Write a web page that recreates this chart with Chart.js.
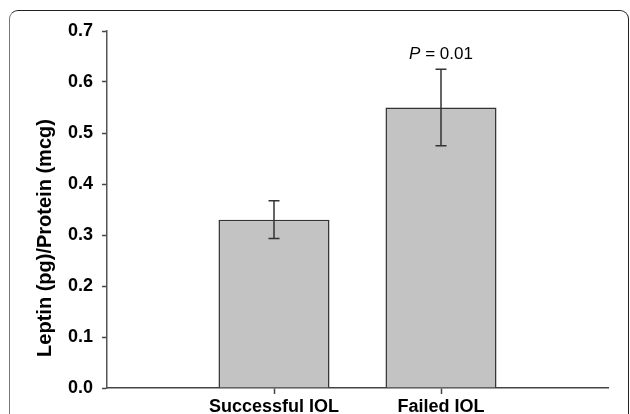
<!DOCTYPE html>
<html>
<head>
<meta charset="utf-8">
<script src="https://cdn.jsdelivr.net/npm/chart.js@4/dist/chart.umd.min.js"></script>
<style>
  body { margin: 0; background: #fff; }
  #wrap { position: relative; width: 630px; height: 414px; overflow: hidden; }
  #frame {
    position: absolute; left: 9px; top: 10px; width: 618px; height: 460px;
    border: 1.5px solid #222; border-left-color: #777; border-radius: 9px;
  }
  #grafico { position: absolute; left: 0; top: 0; }
</style>
</head>
<body>
<div id="wrap">
  <div id="frame"></div>
  <canvas id="grafico" width="630" height="414"></canvas>
</div>
<script>
var categorias = ['Successful IOL', 'Failed IOL'];
var medias = [0.33, 0.55];
var erros = [0.037, 0.075];
var yMin = 0;
var yMax = 0.7;
var yPasso = 0.1;
var tituloY = 'Leptin (pg)/Protein (mcg)';
var textoP = 'P';
var textoValor = ' = 0.01';

var fonte = "'Liberation Sans', Arial, sans-serif";

// espaco vazio antes e depois das barras, como no original
var rotulos = [''].concat(categorias, ['']);
var valores = [null].concat(medias, [null]);
var barraErro = [null].concat(erros, [null]);

var pluginErro = {
    id: 'barraErro',
    afterDatasetsDraw: function (chart) {
        var ctx = chart.ctx;
        var y = chart.scales.y;
        var meta = chart.getDatasetMeta(0);
        ctx.save();
        ctx.strokeStyle = '#333';
        ctx.lineWidth = 1.5;
        for (var i = 0; i < meta.data.length; i++) {
            if (valores[i] == null) continue;
            var x = meta.data[i].x;
            var topo = y.getPixelForValue(valores[i] + barraErro[i]);
            var base = y.getPixelForValue(valores[i] - barraErro[i]);
            ctx.beginPath();
            ctx.moveTo(x, topo); ctx.lineTo(x, base);
            ctx.moveTo(x - 5.5, topo); ctx.lineTo(x + 5.5, topo);
            ctx.moveTo(x - 5.5, base); ctx.lineTo(x + 5.5, base);
            ctx.stroke();
        }
        // anotacao do P acima da barra Failed IOL
        var ult = valores.length - 2;
        var xp = meta.data[ult].x;
        var yp = y.getPixelForValue(valores[ult] + barraErro[ult]) - 10;
        ctx.fillStyle = '#000';
        ctx.textBaseline = 'alphabetic';
        ctx.font = 'italic 17px ' + fonte;
        var w1 = ctx.measureText(textoP).width;
        ctx.font = '17px ' + fonte;
        var w2 = ctx.measureText(textoValor).width;
        var x0 = xp - (w1 + w2) / 2;
        ctx.textAlign = 'left';
        ctx.font = 'italic 17px ' + fonte;
        ctx.fillText(textoP, x0, yp);
        ctx.font = '17px ' + fonte;
        ctx.fillText(textoValor, x0 + w1, yp);

        // titulo do eixo y, um pouco abaixo do centro como no original
        ctx.save();
        ctx.translate(45, 238);
        ctx.rotate(-Math.PI / 2);
        ctx.textAlign = 'center';
        ctx.textBaseline = 'middle';
        ctx.font = 'bold 20px ' + fonte;
        ctx.fillText(tituloY, 0, 0);
        ctx.restore();
        ctx.restore();
    }
};

var corTick = function (c) {
    return rotulos[c.index] ? '#444' : 'rgba(0,0,0,0)';
};

var grafico = new Chart(document.getElementById('grafico').getContext('2d'), {
    type: 'bar',
    data: {
        labels: rotulos,
        datasets: [{
            data: valores,
            backgroundColor: '#c3c3c3',
            borderColor: '#333',
            borderWidth: 1.5,
            categoryPercentage: 1,
            barPercentage: 0.665
        }]
    },
    options: {
        responsive: false,
        animation: false,
        layout: { padding: { left: 0, right: 22, top: 31, bottom: 0 } },
        plugins: { legend: { display: false }, tooltip: { enabled: false } },
        scales: {
            x: {
                offset: false,
                grid: { offset: false, drawOnChartArea: false, tickLength: 6, tickColor: corTick, tickWidth: 1.5 },
                border: { color: '#444', width: 1.5 },
                ticks: { color: '#000', padding: 2, maxRotation: 0, autoSkip: false,
                    font: { family: fonte, size: 18, weight: 'bold' } },
                afterFit: function (s) { s.height = 26; }
            },
            y: {
                min: yMin,
                max: yMax,
                grid: { drawOnChartArea: false, tickLength: 5, tickColor: '#444', tickWidth: 1.5 },
                border: { color: '#555', width: 1.5 },
                ticks: {
                    stepSize: yPasso, color: '#000', padding: 9,
                    font: { family: fonte, size: 18, weight: 'bold' },
                    callback: function (v) { return v.toFixed(1); }
                },
                afterFit: function (s) { s.width = 107; }
            }
        }
    },
    plugins: [pluginErro]
});
</script>
</body>
</html>
